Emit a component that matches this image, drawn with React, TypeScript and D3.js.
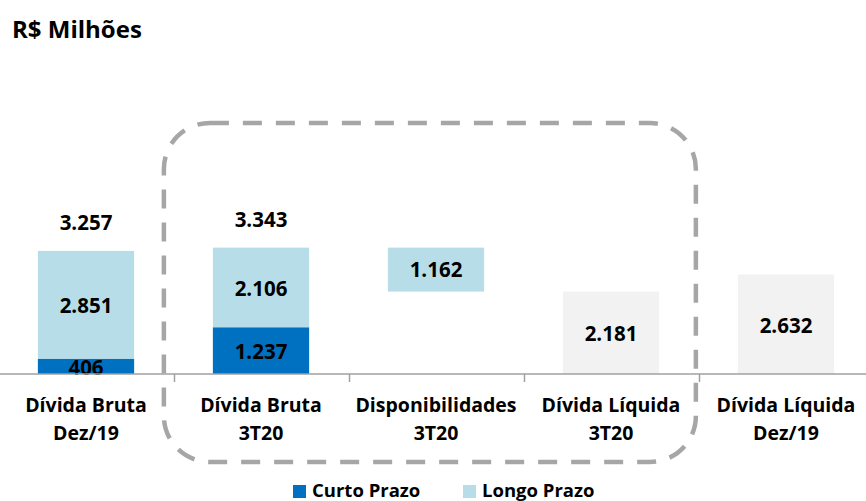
import React from 'react';
import * as d3 from 'd3';

const categories = ['bruta19', 'bruta3t20', 'disp', 'liq3t20', 'liq19'];
const categoryLabels = [
  ['Dívida Bruta', 'Dez/19'],
  ['Dívida Bruta', '3T20'],
  ['Disponibilidades', '3T20'],
  ['Dívida Líquida', '3T20'],
  ['Dívida Líquida', 'Dez/19'],
];
// curto / longo prazo stacks for the gross debt bars
const curtoPrazo = [406, 1237, 0, 0, 0];
const longoPrazo = [2851, 2106, 0, 0, 0];
const totals = [3257, 3343, 0, 0, 0];
// floating bar (cash) and net debt bars
const disponibilidades = { base: 2181, value: 1162 };
const dividaLiquida = [0, 0, 0, 2181, 2632];

const legendItems = [
  { label: 'Curto Prazo', color: '#0070c0' },
  { label: 'Longo Prazo', color: '#b7dee8' },
];

const W = 866;
const H = 501;
const FONT = '"Open Sans", Lato, sans-serif';
const fmt = (v: number) => d3.format(',')(v).replace(/,/g, '.');

const App: React.FC = () => {
  const x = d3.scaleBand<string>()
    .domain(categories)
    .range([-1.5, 873.5])
    .paddingInner(0.45)
    .paddingOuter(0.225);
  const y = d3.scaleLinear().domain([0, 3500]).range([374, 374 - 3500 * 0.0378]);
  const bw = x.bandwidth();
  const step = x.step();
  const cx = (c: string) => (x(c) as number) + bw / 2;

  const boxLeft = (x('bruta3t20') as number) - step * 0.28;
  const boxRight = (x('liq3t20') as number) + bw + step * 0.21;
  const fs = 20.5;

  return (
    <svg width={W} height={H} style={{ position: 'absolute', left: 0, top: 0 }} fontFamily={FONT}>
      <rect width={W} height={H} fill="#fff" />
      <text x={12} y={38} fontSize={24} fontWeight={700} fill="#000">R$ Milhões</text>

      {/* stacked gross debt */}
      {categories.map((c, i) => totals[i] > 0 && (
        <g key={c}>
          <rect x={x(c)} width={bw} y={y(curtoPrazo[i])} height={y(0) - y(curtoPrazo[i])} fill="#0070c0" />
          <rect x={x(c)} width={bw} y={y(curtoPrazo[i] + longoPrazo[i])}
            height={y(curtoPrazo[i]) - y(curtoPrazo[i] + longoPrazo[i])} fill="#b7dee8" />
          <text x={cx(c)} y={(y(0) + y(curtoPrazo[i])) / 2 + 1} dy="0.36em" textAnchor="middle"
            fontSize={fs} fontWeight={700}>{fmt(curtoPrazo[i])}</text>
          <text x={cx(c)} y={(y(curtoPrazo[i]) + y(totals[i])) / 2 + 1} dy="0.36em" textAnchor="middle"
            fontSize={fs} fontWeight={700}>{fmt(longoPrazo[i])}</text>
          <text x={cx(c)} y={y(totals[i]) - 28} dy="0.36em" textAnchor="middle"
            fontSize={fs} fontWeight={700}>{fmt(totals[i])}</text>
        </g>
      ))}

      {/* cash floating bar */}
      <rect x={x('disp')} width={bw} y={y(disponibilidades.base + disponibilidades.value)}
        height={y(disponibilidades.base) - y(disponibilidades.base + disponibilidades.value)} fill="#b7dee8" />
      <text x={cx('disp')} y={(y(disponibilidades.base) + y(disponibilidades.base + disponibilidades.value)) / 2}
        dy="0.36em" textAnchor="middle" fontSize={fs} fontWeight={700}>{fmt(disponibilidades.value)}</text>

      {/* net debt */}
      {categories.map((c, i) => dividaLiquida[i] > 0 && (
        <g key={'l' + c}>
          <rect x={x(c)} width={bw} y={y(dividaLiquida[i])} height={y(0) - y(dividaLiquida[i])} fill="#f2f2f2" />
          <text x={cx(c)} y={(y(0) + y(dividaLiquida[i])) / 2 + 1} dy="0.36em" textAnchor="middle"
            fontSize={fs} fontWeight={700}>{fmt(dividaLiquida[i])}</text>
        </g>
      ))}

      {/* axis */}
      <line x1={0} x2={W} y1={y(0)} y2={y(0)} stroke="#a0a0a0" strokeWidth={1.5} />
      {categories.slice(1).map(c => {
        const tx = Math.round((x(c) as number) - step * 0.45 / 2) + 0.5;
        return <line key={'t' + c} x1={tx} x2={tx} y1={y(0)} y2={y(0) + 8} stroke="#a0a0a0" strokeWidth={1.5} />;
      })}
      {categories.map((c, i) => (
        <text key={'c' + c} x={cx(c)} textAnchor="middle" fontSize={19.5} fontWeight={700} fill="#000">
          <tspan x={cx(c)} y={412}>{categoryLabels[i][0]}</tspan>
          <tspan x={cx(c)} y={440}>{categoryLabels[i][1]}</tspan>
        </text>
      ))}

      {/* highlight box */}
      <rect x={boxLeft} y={123} width={boxRight - boxLeft} height={462 - 123} rx={46} ry={46}
        fill="none" stroke="#a6a6a6" strokeWidth={4.5} strokeDasharray="19 14" />

      {/* legend */}
      {legendItems.map((d, i) => {
        const lx = 293 + i * 170;
        return (
          <g key={d.label}>
            <rect x={lx} y={485} width={13} height={13} fill={d.color} />
            <text x={lx + 19} y={497} fontSize={18.5} fontWeight={700}>{d.label}</text>
          </g>
        );
      })}
    </svg>
  );
};

export default App;
